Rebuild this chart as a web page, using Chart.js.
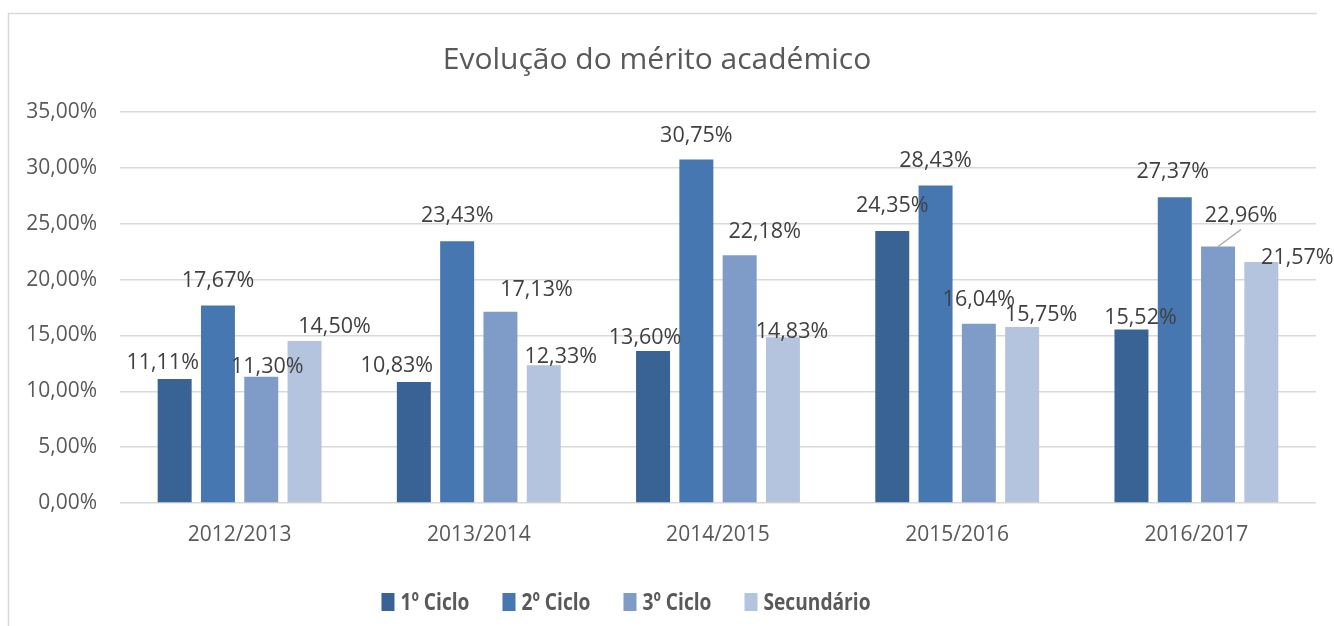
<!DOCTYPE html>
<html><head><meta charset="utf-8">
<script src="https://cdn.jsdelivr.net/npm/chart.js@4.4.1/dist/chart.umd.min.js"></script>
<style>html,body{margin:0;padding:0;background:#fff;overflow:hidden}</style>
</head><body>
<canvas id="c" width="1334" height="626"></canvas>
<script>
const categories = ['2012/2013','2013/2014','2014/2015','2015/2016','2016/2017'];
const seriesNames = ['1º Ciclo','2º Ciclo','3º Ciclo','Secundário'];
const ciclo1 = [11.11, 10.83, 13.60, 24.35, 15.52];
const ciclo2 = [17.67, 23.43, 30.75, 28.43, 27.37];
const ciclo3 = [11.30, 17.13, 22.18, 16.04, 22.96];
const secundario = [14.50, 12.33, 14.83, 15.75, 21.57];
const yTicks = [0, 5, 10, 15, 20, 25, 30, 35];
const chartTitle = 'Evolução do mérito académico';

const colors = ['#3A6395', '#4677B1', '#7F9BC8', '#B4C3DE'];
const FONT = '"Open Sans", "Noto Sans", sans-serif';
const fmt = v => v.toFixed(2).replace('.', ',') + '%';

// label nudges (dx, dy relative to bar top centre), as placed in the reference
const labelDx = [[-12,-17,-8,0,9],[0,0,0,0,-2],[6,36,25,0,23],[30,17,9,19,36]];
const labelDy = [[-16,-16,-13,-25,-12],[-25,-25,-24,-25,-25],[-10,-22,-23,-24,-31],[-14,-8,-5,-12,-4]];
const leader = [[0,0,0,0,0],[0,0,0,0,0],[0,0,0,0,1],[0,0,0,0,0]];

const deco = {
  id: 'deco',
  afterDraw(chart) {
    const ctx = chart.ctx;
    ctx.save();
    // frame
    ctx.strokeStyle = '#D9D9D9';
    ctx.lineWidth = 1.5;
    ctx.beginPath();
    ctx.moveTo(8.5, 640); ctx.lineTo(8.5, 13.5); ctx.lineTo(1317, 13.5);
    ctx.stroke();
    // title
    ctx.fillStyle = '#595959';
    ctx.font = '30px ' + FONT;
    ctx.textAlign = 'center';
    ctx.textBaseline = 'middle';
    ctx.fillText(chartTitle, 657, 60);
    // data labels
    ctx.font = '21.5px ' + FONT;
    ctx.fillStyle = '#404040';
    chart.data.datasets.forEach((ds, si) => {
      const meta = chart.getDatasetMeta(si);
      meta.data.forEach((bar, i) => {
        const x = bar.x + labelDx[si][i];
        const y = bar.y + labelDy[si][i];
        if (leader[si][i]) {
          ctx.strokeStyle = '#A6A6A6';
          ctx.lineWidth = 1.3;
          ctx.beginPath();
          ctx.moveTo(bar.x, bar.y);
          ctx.lineTo(x, y + 14);
          ctx.stroke();
        }
        ctx.fillText(fmt(ds.data[i]), x, y);
      });
    });
    // legend
    ctx.font = 'bold 24px ' + FONT;
    const sx = 69 / ctx.measureText(seriesNames[0]).width;
    const sq = 13, gap1 = 6, gap2 = 33;
    const widths = seriesNames.map(n => ctx.measureText(n).width * sx);
    let total = 0;
    widths.forEach((w, i) => { total += sq + gap1 + w + (i < widths.length - 1 ? gap2 : 0); });
    let x = 626 - total / 2;
    const ly = 602;
    ctx.textAlign = 'left';
    seriesNames.forEach((n, i) => {
      ctx.fillStyle = colors[i];
      ctx.fillRect(x, ly - 9, sq, 18);
      x += sq + gap1;
      ctx.fillStyle = '#595959';
      ctx.save();
      ctx.translate(x, ly);
      ctx.scale(sx, 1);
      ctx.fillText(n, 0, 1);
      ctx.restore();
      x += widths[i] + gap2;
    });
    ctx.restore();
  }
};

new Chart(document.getElementById('c'), {
  type: 'bar',
  data: {
    labels: categories,
    datasets: [ciclo1, ciclo2, ciclo3, secundario].map((d, i) => ({
      label: seriesNames[i],
      data: d,
      backgroundColor: colors[i],
      borderWidth: 0,
      categoryPercentage: 0.724,
      barPercentage: 0.785
    }))
  },
  options: {
    responsive: false,
    animation: false,
    devicePixelRatio: 1,
    layout: { padding: { left: 0, top: 112, right: 18, bottom: 0 } },
    plugins: { legend: { display: false }, title: { display: false }, tooltip: { enabled: false } },
    scales: {
      x: {
        grid: { display: false, drawTicks: false },
        border: { display: false },
        ticks: { color: '#595959', font: { family: FONT, size: 21 }, padding: 19 },
        afterFit: s => { s.height = 123; }
      },
      y: {
        min: 0, max: 35,
        afterBuildTicks: s => { s.ticks = yTicks.map(v => ({ value: v })); },
        grid: { color: '#D9D9D9', lineWidth: 1.5, drawTicks: false },
        border: { display: false },
        ticks: { color: '#595959', font: { family: FONT, size: 21 }, padding: 23, callback: v => fmt(v) },
        afterFit: s => { s.width = 120; }
      }
    }
  },
  plugins: [deco]
});
</script>
</body></html>
